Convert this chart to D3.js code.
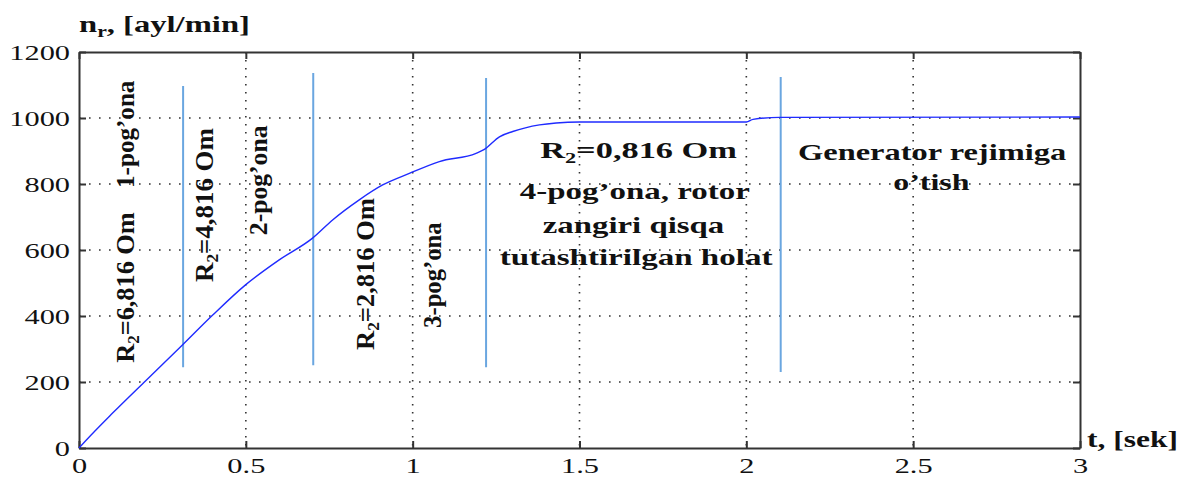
<!DOCTYPE html>
<html>
<head>
<meta charset="utf-8">
<script src="https://cdn.jsdelivr.net/npm/d3@7"></script>
<style>
  body { margin: 0; background: #fff; }
  svg text { font-family: "Liberation Serif", "Times New Roman", serif; fill: #111; }
</style>
</head>
<body>
<svg id="chart" width="1181" height="478"></svg>
<script>
// speed curve n(t)
const tVals = [0, 0.02, 0.1, 0.2, 0.3, 0.4, 0.5, 0.6, 0.7, 0.76, 0.84, 0.91, 0.99, 1.08, 1.19, 1.215, 1.26, 1.3, 1.38, 1.43, 1.5, 2.0, 2.02, 2.1, 3.0];
const nVals = [0, 22, 105, 204, 302, 402, 495, 570, 636, 691, 752, 797, 832, 868, 893, 905, 943, 959, 979, 985, 988, 988, 996, 1002, 1003];

// switching moments (vertical markers)
const switchT = [0.312, 0.702, 1.22, 2.103];
const switchTop = [1097, 1136, 1121, 1124];
const switchBottom = [245, 251, 245, 230];

const xTicks = [0, 0.5, 1, 1.5, 2, 2.5, 3];
const yTicks = [0, 200, 400, 600, 800, 1000, 1200];

// vertical labels: t of baseline, n at start, n at end
const vLabels = [
  { sub: true, pre: "R", post: "=6,816 Om", t: 0.164, n0: 258, n1: 715 },
  { sub: false, post: "1-pog’ona", t: 0.164, n0: 788, n1: 1115 },
  { sub: true, pre: "R", post: "=4,816 Om", t: 0.401, n0: 503, n1: 970 },
  { sub: false, post: "2-pog’ona", t: 0.562, n0: 645, n1: 979 },
  { sub: true, pre: "R", post: "=2,816 Om", t: 0.883, n0: 297, n1: 758 },
  { sub: false, post: "3-pog’ona", t: 1.084, n0: 364, n1: 685 }
];

// horizontal labels: t range and baseline n
const hLabels = [
  { sub: true, pre: "R", post: "=0,816  Om", t0: 1.382, t1: 1.972, n: 879 },
  { sub: false, post: "4-pog’ona, rotor", t0: 1.321, t1: 2.011, n: 755 },
  { sub: false, post: "zangiri qisqa", t0: 1.390, t1: 1.936, n: 652 },
  { sub: false, post: "tutashtirilgan holat", t0: 1.261, t1: 2.080, n: 555 },
  { sub: false, post: "Generator rejimiga", t0: 2.155, t1: 2.961, n: 873 },
  { sub: false, post: "o’tish", t0: 2.440, t1: 2.670, n: 782 }
];

const margin = { top: 52, right: 101, bottom: 30, left: 79 };
const width = 1181 - margin.left - margin.right;
const height = 478 - margin.top - margin.bottom;
const stretch = 1.38;

const svg = d3.select("#chart");
const g = svg.append("g").attr("transform", `translate(${margin.left},${margin.top})`);

const x = d3.scaleLinear().domain([0, 3]).range([0, width]);
const y = d3.scaleLinear().domain([0, 1200]).range([height, 0]);

// grid
g.selectAll("line.gx")
  .data(xTicks.slice(1, -1))
  .enter().append("line")
  .attr("x1", d => x(d)).attr("x2", d => x(d))
  .attr("y1", 0).attr("y2", height)
  .attr("stroke", "#333").attr("stroke-width", 1.6)
  .attr("stroke-dasharray", "1.6,6.4");

g.selectAll("line.gy")
  .data(yTicks.slice(1, -1))
  .enter().append("line")
  .attr("x1", 0).attr("x2", width)
  .attr("y1", d => y(d)).attr("y2", d => y(d))
  .attr("stroke", "#333").attr("stroke-width", 1.6)
  .attr("stroke-dasharray", "1.6,8.4");

// axes with inward ticks on all sides
const styleAxis = sel => {
  sel.select(".domain").attr("stroke", "#333").attr("stroke-width", 2);
  sel.selectAll(".tick line").attr("stroke", "#333").attr("stroke-width", 2);
};

const xAxis = g.append("g")
  .attr("transform", `translate(0,${height})`)
  .call(d3.axisBottom(x).tickValues(xTicks).tickFormat(d3.format("")).tickSizeInner(-7).tickSizeOuter(0))
  .call(styleAxis);
xAxis.selectAll("text")
  .attr("font-size", 22)
  .attr("fill", "#111")
  .attr("y", 0)
  .attr("dy", 0)
  .attr("transform", `translate(0,25) scale(${stretch},1)`);

const yAxis = g.append("g")
  .call(d3.axisLeft(y).tickValues(yTicks).tickFormat(d3.format("d")).tickSizeInner(-7).tickSizeOuter(0))
  .call(styleAxis);
yAxis.selectAll("text")
  .attr("font-size", 22)
  .attr("fill", "#111")
  .attr("x", 0)
  .attr("dy", "0.34em")
  .attr("transform", `translate(-9,0) scale(${stretch},1)`);

g.append("g")
  .call(d3.axisTop(x).tickValues(xTicks).tickFormat("").tickSizeInner(-7).tickSizeOuter(0))
  .call(styleAxis);

g.append("g")
  .attr("transform", `translate(${width},0)`)
  .call(d3.axisRight(y).tickValues(yTicks).tickFormat("").tickSizeInner(-7).tickSizeOuter(0))
  .call(styleAxis);

// switching markers
g.selectAll("line.sw")
  .data(switchT)
  .enter().append("line")
  .attr("x1", d => x(d)).attr("x2", d => x(d))
  .attr("y1", (d, i) => y(switchTop[i]))
  .attr("y2", (d, i) => y(switchBottom[i]))
  .attr("stroke", "#6aa6e0")
  .attr("stroke-width", 2);

// curve
const pts = tVals.map((t, i) => [t, nVals[i]]);
g.append("path")
  .datum(pts)
  .attr("fill", "none")
  .attr("stroke", "#1f2bff")
  .attr("stroke-width", 1.4)
  .attr("d", d3.line().x(d => x(d[0])).y(d => y(d[1])).curve(d3.curveMonotoneX));

// text helpers
function addText(parent, d, size) {
  const t = parent.append("text")
    .attr("font-size", size)
    .attr("font-weight", "bold");
  if (d.sub) {
    t.append("tspan").text(d.pre);
    t.append("tspan").attr("font-size", size * 0.65).attr("dy", size * 0.2).text("2");
    t.append("tspan").attr("dy", -size * 0.2).text(d.post);
  } else {
    t.text(d.post);
  }
  return t;
}

function fit(t, px, py, len, rot) {
  const w = t.node().getBBox().width;
  t.attr("transform", `translate(${px},${py})${rot ? " rotate(-90)" : ""} scale(${len / w},1)`);
}

vLabels.forEach(d => {
  const t = addText(g, d, 25);
  fit(t, x(d.t), y(d.n0), y(d.n0) - y(d.n1), true);
});

hLabels.forEach(d => {
  const t = addText(g, d, 23);
  fit(t, x(d.t0), y(d.n), x(d.t1) - x(d.t0), false);
});

// axis titles
const yTitle = svg.append("text").attr("font-size", 24).attr("font-weight", "bold");
yTitle.append("tspan").text("n");
yTitle.append("tspan").attr("font-size", 16).attr("dy", 5).text("r");
yTitle.append("tspan").attr("dy", -5).text(", [ayl/min]");
fit(yTitle, 79, 32, 171, false);

const xTitle = svg.append("text").attr("font-size", 24).attr("font-weight", "bold").text("t, [sek]");
fit(xTitle, 1087, 447, 91, false);
</script>
</body>
</html>
